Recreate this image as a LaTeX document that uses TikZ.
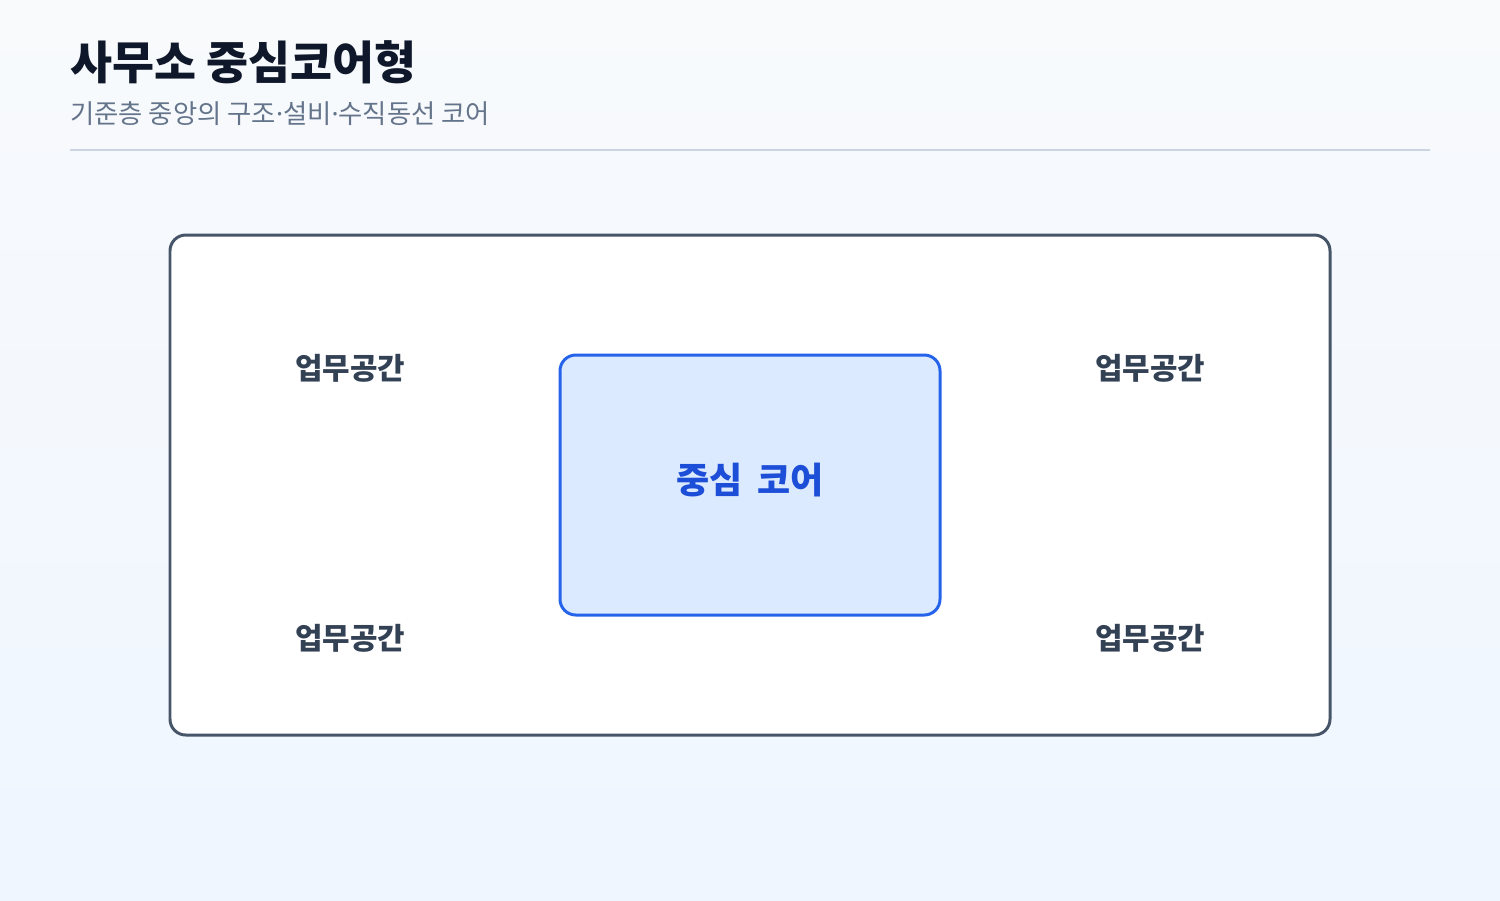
\documentclass[tikz,border=0pt]{standalone}
\usepackage{fontspec}
\setmainfont{Noto Sans CJK KR}
\newfontfamily\kr{Noto Sans CJK KR}
\newfontfamily\dotfont{Noto Sans}
\usetikzlibrary{positioning}
\definecolor{bgA}{HTML}{F8FAFC}
\definecolor{bgB}{HTML}{EFF6FF}
\definecolor{titlec}{HTML}{0F172A}
\definecolor{subc}{HTML}{64748B}
\definecolor{rulec}{HTML}{CBD5E1}
\definecolor{framec}{HTML}{475569}
\definecolor{labelc}{HTML}{334155}
\definecolor{corestroke}{HTML}{2563EB}
\definecolor{corefill}{HTML}{DBEAFE}
\definecolor{coretext}{HTML}{1D4ED8}
\newcommand{\mdot}{{\dotfont ·}}
\tikzset{
  px/.style={x=0.02cm,y=-0.02cm},
  zone/.style={font=\kr\bfseries\fontsize{17}{20}\selectfont, text=labelc, anchor=center, inner sep=0},
}
\begin{document}
\begin{tikzpicture}[px]
\useasboundingbox (0,0) rectangle (1500,900);
\shade[top color=bgA, bottom color=bgB, shading angle=0] (0,0) rectangle (1500,900);
\node[anchor=base west, inner sep=0, font=\kr\bfseries\fontsize{26}{30}\selectfont, text=titlec] (title) at (70,79) {사무소 중심코어형};
\node[anchor=base west, inner sep=0, font=\kr\fontsize{15}{18}\selectfont, text=subc] (sub) at (70,123) {기준층 중앙의 구조\mdot 설비\mdot 수직동선 코어};
\coordinate (r1) at (70,150);
\coordinate (r2) at (1430,150);
\draw[rulec, line width=1.7pt] (r1) -- (r2);
\node[draw=framec, fill=white, line width=1.7pt, rounded corners=9pt, minimum width=1160*0.02cm, minimum height=500*0.02cm, inner sep=0] (floor) at (750,485) {};
\node[draw=corestroke, fill=corefill, line width=1.7pt, rounded corners=9pt, minimum width=380*0.02cm, minimum height=260*0.02cm, inner sep=0] (core) at (750,485) {};
\node[inner sep=0, font=\kr\bfseries\fontsize{20.5}{24}\selectfont, text=coretext] (coretxt) at (750,480) {중심\hspace{0.2em}\ 코어};
\node[zone] (z1) at (350,368) {업무공간};
\node[zone] (z2) at (1150,368) {업무공간};
\node[zone] (z3) at (350,638) {업무공간};
\node[zone] (z4) at (1150,638) {업무공간};
\end{tikzpicture}
\end{document}
